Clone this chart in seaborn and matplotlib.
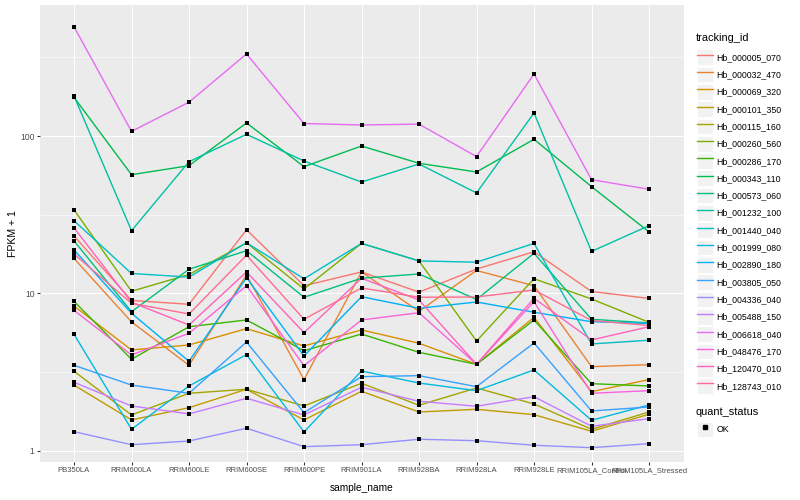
import matplotlib
matplotlib.use("Agg")
import matplotlib.pyplot as plt
import seaborn as sns
import pandas as pd
from matplotlib.lines import Line2D
from matplotlib.patches import Rectangle
from matplotlib.legend_handler import HandlerTuple
from matplotlib.ticker import FixedLocator, NullFormatter

# ---------------- data (FPKM values, plotted as FPKM + 1) ----------------
samples = ["PB350LA", "RRIM600LA", "RRIM600LE", "RRIM600SE", "RRIM600PE",
           "RRIM901LA", "RRIM928BA", "RRIM928LA", "RRIM928LE",
           "RRIM105LA_Control", "RRIM105LA_Stressed"]

tracking_ids = ["Hb_000005_070", "Hb_000032_470", "Hb_000069_320", "Hb_000101_350",
                "Hb_000115_160", "Hb_000260_560", "Hb_000286_170", "Hb_000343_110",
                "Hb_000573_060", "Hb_001232_100", "Hb_001440_040", "Hb_001999_080",
                "Hb_002890_180", "Hb_003805_050", "Hb_004336_040", "Hb_005488_150",
                "Hb_006618_040", "Hb_048476_170", "Hb_120470_010", "Hb_128743_010"]

colors = ["#F8766D", "#EA8331", "#D89000", "#C09B00", "#A3A500", "#7CAE00", "#39B600",
          "#00BB4E", "#00BF7D", "#00C1A3", "#00BFC4", "#00BAE0", "#00B0F6", "#35A2FF",
          "#9590FF", "#C77CFF", "#E76BF3", "#FA62DB", "#FF62BC", "#FF6C91"]

hb_000005_070 = [22.2, 8.03, 7.54, 24.4, 10.2, 12.7, 9.2, 13.3, 17.4, 9.3, 8.3]
hb_000032_470 = [15.7, 5.6, 2.5, 12.1, 1.84, 12.7, 6.7, 13.0, 10.2, 2.43, 2.53]
hb_000069_320 = [7.33, 3.38, 3.71, 4.98, 3.64, 4.87, 3.83, 2.55, 6.06, 1.38, 1.84]
hb_000101_350 = [1.62, 0.574, 0.883, 1.465, 0.574, 1.393, 0.768, 0.839, 0.70, 0.334, 0.71]
hb_000115_160 = [2.21, 0.693, 1.325, 1.465, 0.931, 1.69, 0.951, 1.512, 0.988, 0.373, 0.768]
hb_000260_560 = [33.0, 9.33, 12.2, 20.0, 9.68, 19.8, 15.1, 3.99, 11.4, 8.23, 5.56]
hb_000286_170 = [7.92, 2.82, 5.15, 5.79, 3.33, 4.53, 3.23, 2.55, 5.79, 1.675, 1.586]
hb_000343_110 = [175.0, 55.8, 63.8, 120.0, 62.9, 85.4, 66.1, 58.1, 94.3, 46.7, 23.6]
hb_000573_060 = [20.6, 6.66, 13.25, 17.7, 8.46, 11.5, 12.3, 8.16, 17.0, 5.86, 5.5]
hb_001232_100 = [178.5, 24.05, 67.7, 101.5, 68.4, 50.0, 65.4, 42.5, 139.0, 17.5, 25.95]
hb_001440_040 = [28.0, 12.4, 11.7, 20.0, 11.4, 19.8, 15.1, 14.8, 19.8, 3.78, 4.05]
hb_001999_080 = [4.51, 0.373, 1.586, 3.09, 0.32, 2.22, 1.70, 1.414, 2.27, 0.566, 0.96]
hb_002890_180 = [17.9, 6.49, 2.71, 11.6, 3.01, 8.54, 7.05, 7.83, 6.60, 5.62, 5.45]
hb_003805_050 = [2.50, 1.62, 1.325, 3.92, 0.751, 1.963, 2.007, 1.56, 3.85, 0.795, 0.902]
hb_004336_040 = [0.326, 0.096, 0.157, 0.394, 0.065, 0.096, 0.187, 0.162, 0.087, 0.049, 0.113]
hb_005488_150 = [1.73, 0.931, 0.718, 1.161, 0.693, 1.538, 1.068, 0.922, 1.212, 0.435, 0.603]
hb_006618_040 = [493.0, 106.0, 163.0, 331.0, 119.0, 116.5, 118.0, 73.0, 246.5, 51.8, 44.9]
hb_048476_170 = [6.82, 3.07, 4.59, 10.2, 2.48, 5.79, 6.55, 2.55, 7.87, 1.325, 1.414]
hb_120470_010 = [25.1, 7.79, 5.31, 12.7, 4.64, 11.5, 8.09, 2.55, 8.32, 4.07, 5.15]
hb_128743_010 = [16.8, 7.66, 6.41, 16.5, 5.86, 9.84, 8.46, 8.5, 9.53, 5.74, 5.26]

series = [hb_000005_070, hb_000032_470, hb_000069_320, hb_000101_350, hb_000115_160,
          hb_000260_560, hb_000286_170, hb_000343_110, hb_000573_060, hb_001232_100,
          hb_001440_040, hb_001999_080, hb_002890_180, hb_003805_050, hb_004336_040,
          hb_005488_150, hb_006618_040, hb_048476_170, hb_120470_010, hb_128743_010]

rows = []
for tid, vals in zip(tracking_ids, series):
    for s, v in zip(samples, vals):
        rows.append({"tracking_id": tid, "sample_name": s, "fpkm1": v + 1.0,
                     "quant_status": "OK"})
df = pd.DataFrame(rows)
df["sample_name"] = pd.Categorical(df["sample_name"], categories=samples, ordered=True)
df["xpos"] = df["sample_name"].cat.codes

# ---------------- figure ----------------
plt.rcParams["font.family"] = ["Liberation Sans", "DejaVu Sans"]
W, H = 800, 500
fig = plt.figure(figsize=(8, 5), dpi=100)
px = lambda x: x / W
py = lambda y: 1 - y / H
left, right, top, bottom = 39.5, 683.5, 5, 462
ax = fig.add_axes([px(left), py(bottom), px(right - left), (bottom - top) / H])
ax.set_facecolor("#EBEBEB")
for sp in ax.spines.values():
    sp.set_visible(False)

palette = dict(zip(tracking_ids, colors))
sns.lineplot(data=df, x="xpos", y="fpkm1", hue="tracking_id", hue_order=tracking_ids,
             palette=palette, ax=ax, legend=False, sort=False, estimator=None,
             linewidth=1.0, zorder=2)
sns.scatterplot(data=df, x="xpos", y="fpkm1", color="black", marker="s", s=9,
                linewidth=0, ax=ax, legend=False, zorder=3)

ax.set_yscale("log")
ax.set_ylim(0.851, 679)
ax.set_xlim(-0.6, len(samples) - 0.4)
ax.set_xticks(range(len(samples)))
ax.set_xticklabels(samples)
ax.set_yticks([1, 10, 100])
ax.set_yticklabels(["1", "10", "100"])
ax.yaxis.set_minor_locator(FixedLocator([10 ** 0.5, 10 ** 1.5, 10 ** 2.5]))
ax.yaxis.set_minor_formatter(NullFormatter())
ax.set_axisbelow(True)
ax.grid(which="major", color="white", linewidth=0.77)
ax.grid(which="minor", axis="y", color="white", linewidth=0.4)
ax.tick_params(axis="both", which="major", length=1.98, width=0.77, color="#333333",
               labelcolor="#4D4D4D", pad=1.6)
ax.tick_params(axis="x", which="major", labelsize=5.5)
ax.tick_params(axis="y", which="major", labelsize=6.2)
ax.tick_params(axis="y", which="minor", length=0)

ax.set_xlabel("sample_name", fontsize=7.3, color="black")
ax.set_ylabel("FPKM + 1", fontsize=7.6, color="black")
ax.xaxis.label.set_va("center")
ax.yaxis.label.set_va("center")
ax.xaxis.set_label_coords(0.5, -(488 - bottom) / (bottom - top))
ax.yaxis.set_label_coords(-(left - 13) / (right - left), 0.5)

# ---------------- legends ----------------
key_fs = 6.34
unit = 8.8
box_w, box_h, pitch = 15.4, 15.7, 17.3
hh = (box_h / unit - 0.245) / 0.65   # matplotlib legend handle height convention


def keybg():
    return Rectangle((0, 0), 1, 1, facecolor="#F2F2F2", edgecolor="white", linewidth=0.7)


common = dict(loc="upper left", bbox_transform=fig.transFigure, frameon=False,
              fontsize=key_fs, handlelength=box_w / unit, handleheight=hh,
              labelspacing=(pitch - box_h) / unit, handletextpad=4.0 / unit,
              borderpad=0, borderaxespad=0,
              handler_map={tuple: HandlerTuple(ndivide=1, pad=0)})

handles = [(keybg(), Line2D([0], [0], color=c, linewidth=1.0)) for c in colors]
fig.text(px(696), py(38), "tracking_id", fontsize=7.9, va="center", ha="left")
fig.legend(handles, tracking_ids, bbox_to_anchor=(px(697.3), py(49.3)), **common)

fig.text(px(696), py(412), "quant_status", fontsize=7.9, va="center", ha="left")
qhandle = [(keybg(), Line2D([0], [0], color="black", marker="s", markersize=2.8,
                            linestyle="none"))]
fig.legend(qhandle, ["OK"], bbox_to_anchor=(px(697.3), py(421.7)), **common)

fig.savefig("out.png", dpi=100)
